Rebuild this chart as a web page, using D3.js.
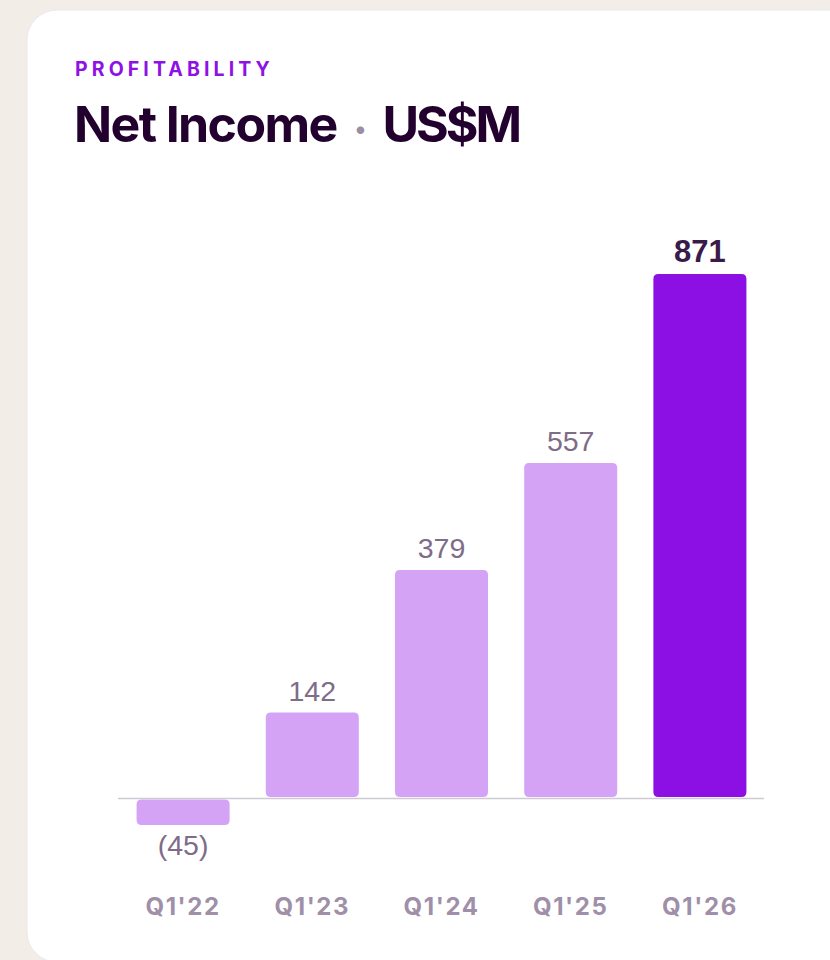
<!DOCTYPE html>
<html>
<head>
<meta charset="utf-8">
<script src="https://cdn.jsdelivr.net/npm/d3@7"></script>
<style>
  html, body { margin: 0; padding: 0; background: #f2eee7; }
  svg { display: block; }
</style>
</head>
<body>
<svg id="chart" width="830" height="960"></svg>
<script>
const categories = ["Q1'22", "Q1'23", "Q1'24", "Q1'25", "Q1'26"];
const values = [-45, 142, 379, 557, 871];
const valueLabels = ["(45)", "142", "379", "557", "871"];
const highlight = [false, false, false, false, true];

const svg = d3.select("#chart");

// card
svg.append("rect").attr("x", 27).attr("y", 10).attr("width", 900).attr("height", 952)
  .attr("rx", 30).attr("fill", "#ffffff").attr("stroke", "#ebe7ee").attr("stroke-width", 1);

// header
svg.append("text").attr("x", 75).attr("y", 76)
  .attr("font-family", "Inter, 'Noto Sans', sans-serif").attr("font-weight", 700)
  .attr("font-size", 19.5).attr("letter-spacing", 4.1).attr("fill", "#8e12e4")
  .text("PROFITABILITY");

const title = svg.append("text").attr("x", 74).attr("y", 142)
  .attr("font-family", "Inter, 'Noto Sans', sans-serif").attr("font-weight", 700)
  .attr("font-size", 50).attr("letter-spacing", -1.6).attr("fill", "#22012f");
title.append("tspan").text("Net Income");
title.append("tspan").attr("fill", "#9a8ea2").attr("font-size", 24).attr("dx", 18).attr("dy", -5).text("•");
title.append("tspan").attr("dx", 18).attr("dy", 5).attr("letter-spacing", -3).text("US$M");

// scales
const x = d3.scaleBand().domain(categories).range([118.5, 764.5]).paddingInner(0.28).paddingOuter(0.14);
const y = d3.scaleLinear().domain([0, 871]).range([798, 274]);

const g = svg.append("g");

// bars
g.selectAll("path.bar").data(values).enter().append("path")
  .attr("class", "bar")
  .attr("fill", (d, i) => highlight[i] ? "#8c0fe3" : "#d4a3f5")
  .attr("d", (d, i) => {
    const x0 = x(categories[i]), w = x.bandwidth();
    const top = d >= 0 ? y(d) : y(0) + 1.5;
    const bot = d >= 0 ? y(0) - 1 : y(d);
    const p = d3.path();
    const r = 5;
    p.moveTo(x0 + r, top);
    p.lineTo(x0 + w - r, top);
    p.quadraticCurveTo(x0 + w, top, x0 + w, top + r);
    p.lineTo(x0 + w, bot - r);
    p.quadraticCurveTo(x0 + w, bot, x0 + w - r, bot);
    p.lineTo(x0 + r, bot);
    p.quadraticCurveTo(x0, bot, x0, bot - r);
    p.lineTo(x0, top + r);
    p.quadraticCurveTo(x0, top, x0 + r, top);
    p.closePath();
    return p.toString();
  });

// baseline
g.append("line").attr("x1", 118).attr("x2", 764).attr("y1", y(0) + 0.5).attr("y2", y(0) + 0.5)
  .attr("stroke", "#cfc9d2").attr("stroke-width", 1.5);

// value labels
g.selectAll("text.val").data(values).enter().append("text")
  .attr("class", "val")
  .attr("x", (d, i) => x(categories[i]) + x.bandwidth() / 2)
  .attr("y", d => d >= 0 ? y(d) - 12 : y(d) + 30)
  .attr("text-anchor", "middle")
  .attr("font-family", "'Liberation Sans', Arial, sans-serif")
  .attr("font-weight", (d, i) => highlight[i] ? 700 : 400)
  .attr("font-size", (d, i) => highlight[i] ? 31 : 28.5)
  .attr("fill", (d, i) => highlight[i] ? "#3a1a4b" : "#7e6c89")
  .text((d, i) => valueLabels[i]);

// x axis labels
const xAxis = d3.axisBottom(x).tickSize(0).tickPadding(0);
const ax = svg.append("g").attr("transform", "translate(0, 915)").call(xAxis);
ax.select(".domain").remove();
ax.selectAll("text")
  .attr("dy", 0)
  .attr("font-family", "Inter, 'Noto Sans', sans-serif").attr("font-weight", 700)
  .attr("font-size", 24).attr("letter-spacing", 1.6).attr("fill", "#a08fa8");
</script>
</body>
</html>
